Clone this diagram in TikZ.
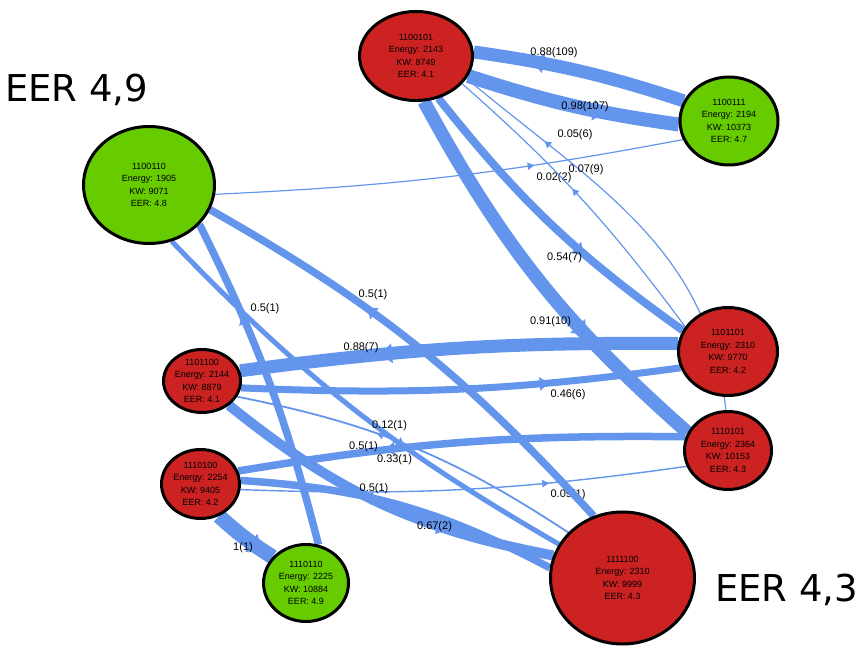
\documentclass[tikz,border=0pt]{standalone}
\usepackage{fontspec}
\setmainfont{Liberation Sans}
\newfontfamily\eerfont{DejaVu Sans}
\usetikzlibrary{shapes.geometric,arrows.meta,decorations.markings}
\definecolor{nodered}{RGB}{204,34,34}
\definecolor{nodegreen}{RGB}{102,204,0}
\definecolor{edgeblue}{RGB}{100,149,237}
\pgfdeclarelayer{lowlabels}
\pgfdeclarelayer{edges}
\pgfdeclarelayer{toplabels}
\pgfsetlayers{lowlabels,edges,toplabels,main}
\tikzset{
  statenode/.style={ellipse, draw=black, line width=3pt, inner xsep=-2pt, inner ysep=-6pt,
    align=center, font=\fontsize{9}{12.5}\selectfont},
  redstate/.style={statenode, fill=nodered},
  greenstate/.style={statenode, fill=nodegreen},
  dims/.style 2 args={minimum width=#1pt, minimum height=#2pt},
  prob/.style={font=\fontsize{11}{13}\selectfont, inner sep=0pt},
  % #1 = width in pt, #2 = where the direction mark sits along the line
  link/.style 2 args={color=edgeblue, line width=#1pt, postaction={decorate},
    decoration={markings, mark=at position #2 with
      {\arrowreversed{Triangle[length=6pt 0.5,width=6pt 1]}}}},
  eer/.style={font=\eerfont\fontsize{37}{40}\selectfont, anchor=base west, inner sep=0pt}
}
\begin{document}
\begin{tikzpicture}[x=1pt,y=1pt]
\useasboundingbox (0,0) rectangle (865,648);

% states
\node[redstate,   dims={113}{89}]  (A) at (416,592)   {1100101\\Energy: 2143\\KW: 8749\\EER: 4.1};
\node[greenstate, dims={98}{88}]   (B) at (729,527)   {1100111\\Energy: 2194\\KW: 10373\\EER: 4.7};
\node[greenstate, dims={131}{117}] (C) at (149,463)   {1100110\\Energy: 1905\\KW: 9071\\EER: 4.8};
\node[redstate,   dims={77}{63}]   (D) at (202,267)   {1101100\\Energy: 2144\\KW: 8879\\EER: 4.1};
\node[redstate,   dims={78}{69}]   (E) at (200.5,164) {1110100\\Energy: 2254\\KW: 9405\\EER: 4.2};
\node[greenstate, dims={85}{77}]   (F) at (306,65)    {1110110\\Energy: 2225\\KW: 10884\\EER: 4.9};
\node[redstate,   dims={99}{88}]   (G) at (728,296.5) {1101101\\Energy: 2310\\KW: 9770\\EER: 4.2};
\node[redstate,   dims={87}{78}]   (H) at (728,197.5) {1110101\\Energy: 2364\\KW: 10153\\EER: 4.3};
\node[redstate,   dims={144}{132}] (I) at (622.5,70)  {1111100\\Energy: 2310\\KW: 9999\\EER: 4.3};

% group captions
\node[eer] (eerleft)  at (5,546)    {EER 4,9};
\node[eer] (eerright) at (715,46)   {EER 4,3};

% probabilities partly hidden by lines drawn over them
\begin{pgfonlayer}{lowlabels}
\node[prob] (l5)  at (554,470)   {0.02(2)};
\node[prob] (l17) at (568,153)   {0.09(1)};
\end{pgfonlayer}

% probabilities (counts) on top of the lines
\begin{pgfonlayer}{toplabels}
\node[prob] (l1)  at (554,595)   {0.88(109)};
\node[prob] (l2)  at (585,541)   {0.98(107)};
\node[prob] (l3)  at (575,513)   {0.05(6)};
\node[prob] (l4)  at (586,478)   {0.07(9)};
\node[prob] (l6)  at (564.5,390) {0.54(7)};
\node[prob] (l7)  at (550.5,326) {0.91(10)};
\node[prob] (l8)  at (373,353)   {0.5(1)};
\node[prob] (l9)  at (265,339)   {0.5(1)};
\node[prob] (l10) at (361,300)   {0.88(7)};
\node[prob] (l11) at (568,253)   {0.46(6)};
\node[prob] (l12) at (389.5,222) {0.12(1)};
\node[prob] (l13) at (363.5,201) {0.5(1)};
\node[prob] (l14) at (394.5,188) {0.33(1)};
\node[prob] (l15) at (374,159)   {0.5(1)};
\node[prob] (l16) at (434.5,121) {0.67(2)};
\node[prob] (l18) at (243,100)   {1(1)};
\end{pgfonlayer}

% transitions
\begin{pgfonlayer}{edges}
\draw[link={13}{0.27}]   (A.4)   to[bend left=5]  (B.156);
\draw[link={14}{0.34}]   (B.184) to[bend left=5]  (A.-21);
\draw[link={1.2}{0.32}]  (B.202) to[bend left=4]  (C.-8);
\draw[link={1.2}{0.46}]  (A.-31) to[bend left=6]  (G.150);
\draw[link={1.2}{0.23}]  (A.-24) to[out=-40,in=96] (H.93);
\draw[link={8}{0.37}]    (G.155) to[bend left=8]  (A.-62);
\draw[link={13.5}{0.33}] (H.156) to[bend left=10] (A.-80);
\draw[link={7.5}{0.375}] (C.-22) to[bend left=9]  (I.115);
\draw[link={7.5}{0.29}]  (C.-38) to[bend left=6]  (F.72);
\draw[link={13}{0.32}]   (D.15)  to[bend left=4]  (G.171);
\draw[link={7}{0.30}]    (G.199) to[bend left=5]  (D.-10);
\draw[link={7.5}{0.33}]  (E.19)  to[bend left=5]  (H.162);
\draw[link={1.4}{0.31}]  (H.201) to[bend left=5]  (E.-8);
\draw[link={15}{0.18}]   (F.142) to[bend left=5]  (E.-60);
\draw[link={10}{0.30}]   (I.162) to[bend left=14] (D.-42);
\draw[link={5}{0.37}]    (I.152) to[bend left=8]  (C.-68);
\draw[link={7.5}{0.38}]  (E.5)   to[bend left=12] (I.172);
\draw[link={1.8}{0.40}]  (D.-24) to[bend left=11] (I.140);
\end{pgfonlayer}
\end{tikzpicture}
\end{document}
